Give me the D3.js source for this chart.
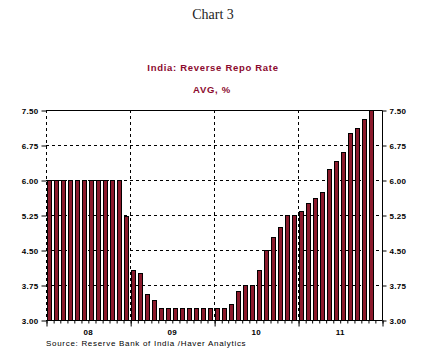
<!DOCTYPE html>
<html lang="en">
<head>
    <title>India: Reverse Repo Rate</title>
    <meta charset="utf-8">
    <script src="https://d3js.org/d3.v7.min.js"></script>
    <style>
        * {
            margin: 0;
            padding: 0;
        }
        body {
            background-color: white;
            width: 427px;
            height: 351px;
            overflow: hidden;
        }
        svg text {
            font-family: "Liberation Sans", Arial, sans-serif;
        }
    </style>
</head>
<body>
<div id="container"></div>
<script>
    // monthly averages, Jan 2008 - Nov 2011
    const years = [2008, 2009, 2010, 2011];
    const rates2008 = [6.00, 6.00, 6.00, 6.00, 6.00, 6.00, 6.00, 6.00, 6.00, 6.00, 6.00, 5.22];
    const rates2009 = [4.08, 4.00, 3.55, 3.42, 3.25, 3.25, 3.25, 3.25, 3.25, 3.25, 3.25, 3.25];
    const rates2010 = [3.25, 3.25, 3.35, 3.62, 3.75, 3.75, 4.08, 4.50, 4.78, 5.00, 5.24, 5.25];
    const rates2011 = [5.33, 5.50, 5.62, 5.75, 6.23, 6.40, 6.60, 7.00, 7.12, 7.30, 7.50];
    const yTicks = [3.00, 3.75, 4.50, 5.25, 6.00, 6.75, 7.50];

    const rates = [rates2008, rates2009, rates2010, rates2011];
    const data = [];
    rates.forEach((arr, i) => {
        arr.forEach((v, m) => data.push({ date: new Date(years[i], m, 1), value: v }));
    });

    const w = 427;
    const h = 351;
    const pLeft = 46, pRight = 382, pTop = 110, pBottom = 320;
    const barColor = "#8b1a2c";
    const titleColor = "#8b0a2e";

    const svg = d3.select("#container")
        .append("svg")
        .attr("width", w)
        .attr("height", h);

    const xScale = d3.scaleTime()
        .domain([new Date(2008, 0, 1), new Date(2012, 0, 1)])
        .range([pLeft, pRight]);

    const yScale = d3.scaleLinear()
        .domain([3, 7.5])
        .range([pBottom, pTop]);

    // titles
    svg.append("text")
        .attr("x", 213).attr("y", 19)
        .attr("text-anchor", "middle")
        .style("font-family", "'Liberation Serif', 'Times New Roman', serif")
        .style("font-size", "14px")
        .attr("fill", "#222")
        .text("Chart 3");

    svg.append("text")
        .attr("x", 213).attr("y", 71)
        .attr("text-anchor", "middle")
        .style("font-size", "9.5px")
        .style("font-weight", "bold")
        .style("letter-spacing", "0.7px")
        .attr("fill", titleColor)
        .text("India: Reverse Repo Rate");

    svg.append("text")
        .attr("x", 212).attr("y", 93)
        .attr("text-anchor", "middle")
        .style("font-size", "9.5px")
        .style("font-weight", "bold")
        .style("letter-spacing", "0.7px")
        .attr("fill", titleColor)
        .text("AVG, %");

    // horizontal grid
    svg.append("g")
        .selectAll("line")
        .data(yTicks.slice(1, -1))
        .enter()
        .append("line")
        .attr("x1", pLeft).attr("x2", pRight)
        .attr("y1", d => Math.round(yScale(d)) + 0.5)
        .attr("y2", d => Math.round(yScale(d)) + 0.5)
        .attr("stroke", "black")
        .attr("stroke-dasharray", "3,3");

    // vertical grid at year boundaries (incl. left edge)
    svg.append("g")
        .selectAll("line")
        .data(years.map(y => new Date(y, 0, 1)))
        .enter()
        .append("line")
        .attr("x1", d => Math.round(xScale(d)) + 0.5)
        .attr("x2", d => Math.round(xScale(d)) + 0.5)
        .attr("y1", pTop).attr("y2", pBottom)
        .attr("stroke", "black")
        .attr("stroke-dasharray", "3,3");

    // bars
    svg.append("g")
        .selectAll("rect")
        .data(data)
        .enter()
        .append("rect")
        .attr("x", d => {
            const x0 = xScale(d.date);
            const x1 = xScale(d3.timeMonth.offset(d.date, 1));
            return Math.round((x0 + x1) / 2 - 2.5) + 0.5;
        })
        .attr("width", 4)
        .attr("y", d => Math.round(yScale(d.value)) + 0.5)
        .attr("height", d => Math.round(pBottom - yScale(d.value)))
        .attr("fill", barColor)
        .attr("stroke", "black")
        .attr("stroke-width", 1);

    // frame: top, right, bottom solid
    svg.append("path")
        .attr("d", `M${pLeft},${pTop + 0.5}H${pRight + 0.5}V${pBottom + 0.5}H${pLeft}`)
        .attr("fill", "none")
        .attr("stroke", "black");

    // y axes
    const yFmt = d3.format(".2f");
    const yLeft = d3.axisLeft(yScale).tickValues(yTicks).tickFormat(yFmt).tickSize(5).tickPadding(3);
    const yRight = d3.axisRight(yScale).tickValues(yTicks).tickFormat(yFmt).tickSize(4).tickPadding(3);

    const gl = svg.append("g").attr("transform", `translate(${pLeft + 0.5}, 0.5)`).call(yLeft);
    gl.select(".domain").remove();
    const gr = svg.append("g").attr("transform", `translate(${pRight + 0.5}, 0.5)`).call(yRight);
    gr.select(".domain").remove();
    svg.selectAll("g.tick text")
        .style("font-size", "8px")
        .style("font-weight", "bold")
        .style("letter-spacing", "0.3px")
        .attr("fill", "black");

    // x axis: monthly minor ticks, yearly major ticks, year labels mid-year
    const xMinor = d3.axisBottom(xScale)
        .ticks(d3.timeMonth.every(1))
        .tickFormat("")
        .tickSize(3)
        .tickSizeOuter(0);
    const gx = svg.append("g").attr("transform", `translate(0.5, ${pBottom + 0.5})`).call(xMinor);
    gx.select(".domain").remove();

    const xMajor = d3.axisBottom(xScale)
        .tickValues(years.map(y => new Date(y, 0, 1)).concat([new Date(2012, 0, 1)]))
        .tickFormat("")
        .tickSize(6);
    const gm = svg.append("g").attr("transform", `translate(0.5, ${pBottom + 0.5})`).call(xMajor);
    gm.select(".domain").remove();

    const xLabels = d3.axisBottom(xScale)
        .tickValues(years.map(y => new Date(y, 6, 1)))
        .tickFormat(d3.timeFormat("%y"))
        .tickSize(0)
        .tickPadding(9);
    const gy = svg.append("g").attr("transform", `translate(0, ${pBottom})`).call(xLabels);
    gy.select(".domain").remove();
    gy.selectAll("text")
        .style("font-size", "8px")
        .style("font-weight", "bold")
        .style("letter-spacing", "0.3px")
        .attr("fill", "black");

    svg.selectAll(".tick line").attr("stroke", "black");

    svg.append("text")
        .attr("x", 46).attr("y", 346)
        .style("font-size", "8px")
        .style("letter-spacing", "0.7px")
        .attr("fill", "black")
        .text("Source:  Reserve Bank of India /Haver Analytics");
</script>
</body>
</html>
